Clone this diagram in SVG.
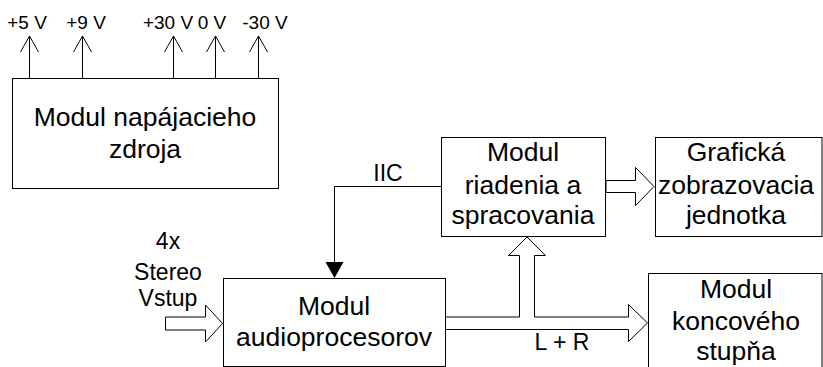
<svg xmlns="http://www.w3.org/2000/svg" width="823" height="367" viewBox="0 0 823 367">
<style>
.box{fill:#fff;stroke:#000;stroke-width:1}
.t{font-family:"Liberation Sans",Arial,sans-serif;font-size:26.5px;fill:#000;text-anchor:middle}
.s{font-family:"Liberation Sans",Arial,sans-serif;font-size:19px;fill:#000;text-anchor:middle}
.m{font-family:"Liberation Sans",Arial,sans-serif;font-size:23px;fill:#000;text-anchor:middle}
.ln{fill:none;stroke:#000;stroke-width:1}
.fat{fill:#fff;stroke:#000;stroke-width:1;stroke-linejoin:miter}
</style>
<rect width="823" height="367" fill="#fff"/>
<g id="connectors">
  <g id="supply-arrows" class="ln">
    <path d="M29.5 78V36M20.5 52L29.5 36L38.5 52"/>
    <path d="M82.5 78V36M73.5 52L82.5 36L91.5 52"/>
    <path d="M173.5 78V36M164.5 52L173.5 36L182.5 52"/>
    <path d="M215.5 78V36M206.5 52L215.5 36L224.5 52"/>
    <path d="M258.5 78V36M249.5 52L258.5 36L267.5 52"/>
  </g>
  <path id="iic" class="ln" d="M441 186.5H334.5V264"/>
  <polygon points="325.5,262 343.5,262 334.5,278" fill="#000"/>
  <polygon id="ctrl-to-display" class="fat" points="606,180.5 635.5,180.5 635.5,167.5 654,186.5 635.5,205.5 635.5,192.5 606,192.5"/>
  <polygon id="input-arrow" class="fat" points="165.5,317 205.5,317 205.5,305 222.5,323.5 205.5,342 205.5,330 165.5,330"/>
  <polygon id="lr-bus" class="fat" points="445,317 519.5,317 519.5,255.5 508.5,255.5 527,237 545.5,255.5 534.5,255.5 534.5,317 628.5,317 628.5,304.5 647.5,323 628.5,341.5 628.5,329.5 445,329.5"/>
  <text class="m" x="388" y="181">IIC</text>
  <text class="m" x="562" y="350">L + R</text>
  <text class="m" x="168" y="249">4x</text>
  <text class="m" x="168" y="280">Stereo</text>
  <text class="m" x="168" y="306">Vstup</text>
</g>
<g id="labels">
  <text class="s" x="27" y="29">+5 V</text>
  <text class="s" x="86" y="29">+9 V</text>
  <text class="s" x="168" y="29">+30 V</text>
  <text class="s" x="212" y="29">0 V</text>
  <text class="s" x="265" y="29">-30 V</text>
</g>
<g id="power">
  <rect class="box" x="12.5" y="78.5" width="266" height="110"/>
  <text class="t" x="145" y="126">Modul napájacieho</text>
  <text class="t" x="145" y="158">zdroja</text>
</g>
<g id="control">
  <rect class="box" x="441.5" y="137.5" width="164" height="99"/>
  <text class="t" x="523" y="161">Modul</text>
  <text class="t" x="523" y="194">riadenia a</text>
  <text class="t" x="523" y="224">spracovania</text>
</g>
<g id="display">
  <rect class="box" x="655.5" y="137.5" width="166.5" height="99"/>
  <text class="t" x="736" y="161">Grafická</text>
  <text class="t" x="736" y="194">zobrazovacia</text>
  <text class="t" x="736" y="224">jednotka</text>
</g>
<g id="audio">
  <rect class="box" x="223.5" y="278.5" width="222" height="88"/>
  <text class="t" x="334" y="315">Modul</text>
  <text class="t" x="334" y="346">audioprocesorov</text>
</g>
<g id="amplifier">
  <rect class="box" x="648.5" y="273.5" width="173.5" height="100"/>
  <text class="t" x="736" y="298">Modul</text>
  <text class="t" x="736" y="330">koncového</text>
  <text class="t" x="736" y="360">stupňa</text>
</g>
</svg>
